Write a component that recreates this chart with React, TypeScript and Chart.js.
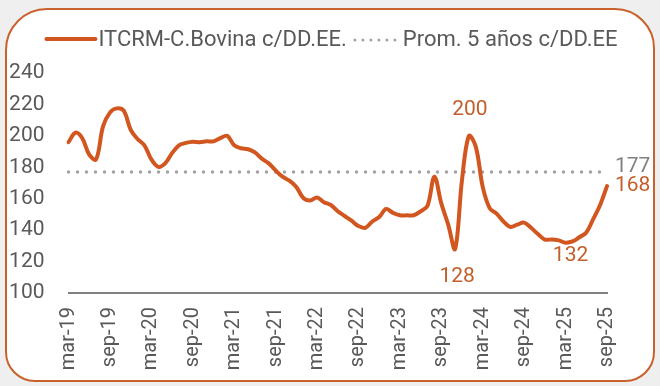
import React, { useEffect, useRef } from "react";
import { Chart, registerables } from "chart.js";

Chart.register(...registerables);

// ---------- DATA ----------
const CATEGORIES: string[] = [
  "mar-19", "abr-19", "may-19", "jun-19", "jul-19", "ago-19", "sep-19", "oct-19", "nov-19", "dic-19",
  "ene-20", "feb-20", "mar-20", "abr-20", "may-20", "jun-20", "jul-20", "ago-20", "sep-20", "oct-20", "nov-20", "dic-20",
  "ene-21", "feb-21", "mar-21", "abr-21", "may-21", "jun-21", "jul-21", "ago-21", "sep-21", "oct-21", "nov-21", "dic-21",
  "ene-22", "feb-22", "mar-22", "abr-22", "may-22", "jun-22", "jul-22", "ago-22", "sep-22", "oct-22", "nov-22", "dic-22",
  "ene-23", "feb-23", "mar-23", "abr-23", "may-23", "jun-23", "jul-23", "ago-23", "sep-23", "oct-23", "nov-23", "dic-23",
  "ene-24", "feb-24", "mar-24", "abr-24", "may-24", "jun-24", "jul-24", "ago-24", "sep-24", "oct-24", "nov-24", "dic-24",
  "ene-25", "feb-25", "mar-25", "abr-25", "may-25", "jun-25", "jul-25", "ago-25", "sep-25",
];

const ITCRM_BOVINA: number[] = [
  196, 202, 198.5, 188, 185, 206, 214.8, 217.5, 216, 204,
  198, 194, 185, 180.3, 182.5, 189, 194, 195.5, 196.3, 196,
  196.5, 196.5, 198.5, 200, 194, 192.1, 191.5, 189.5, 185.5, 182.5,
  178, 174, 171.5, 167.5, 160.5, 158.8, 160.8, 157.8, 156, 152,
  149, 146, 142.6, 141.5, 145.5, 148.3, 153.5, 151, 149.5, 149.4,
  149.5, 152, 155.5, 174, 157, 143.5, 128, 172, 200, 193,
  167.5, 154, 150.5, 145.5, 142, 143.5, 144.8, 141.5, 137.5, 134,
  134.1, 133.5, 132, 132.8, 135.5, 138.5, 147, 156, 168,
];

const PROM_5_ANOS = 177;

const SHOWN_TICKS: string[] = [
  "mar-19", "sep-19", "mar-20", "sep-20", "mar-21", "sep-21", "mar-22",
  "sep-22", "mar-23", "sep-23", "mar-24", "sep-24", "mar-25", "sep-25",
];

const Y_MIN = 100;
const Y_MAX = 240;
const Y_STEP = 20;

const LEGEND_LABELS: string[] = ["ITCRM-C.Bovina c/DD.EE.", "Prom. 5 años c/DD.EE"];

// indices of labelled points on the ITCRM series
const LABELLED_POINTS: number[] = [58, 56, 72, 78];

// ---------- STYLE ----------
const FONT = "Roboto, 'Noto Sans', sans-serif";
const LINE_COLOR = "#D2561F";
const AVG_COLOR = "#A3A3A3";
const TEXT_GRAY = "#595959";
const LABEL_ORANGE = "#C25F2B";
const LABEL_GRAY = "#808080";
const FRAME_COLOR = "#C9612F";

// placement (styling) for labelled points: [dx, dy, align]
const POINT_LABEL_PLACEMENT: [number, number, CanvasTextAlign][] = [
  [1, -26, "center"],
  [2, 28, "center"],
  [5, 13, "center"],
  [8, 0, "left"],
];

const legendPlugin = {
  id: "customLegend",
  afterDraw(chart: any) {
    const ctx = chart.ctx as CanvasRenderingContext2D;
    ctx.save();
    ctx.font = `22px ${FONT}`;
    const w1 = ctx.measureText(LEGEND_LABELS[0]).width;
    const w2 = ctx.measureText(LEGEND_LABELS[1]).width;
    const lineW = 53, gapA = 1, gapB = 6, dotW = 44, gapC = 6;
    const total = lineW + gapA + w1 + gapB + dotW + gapC + w2;
    let x = (chart.width - total) / 2 + 1;
    const y = 40;
    ctx.strokeStyle = LINE_COLOR;
    ctx.lineWidth = 4;
    ctx.lineCap = "round";
    ctx.beginPath();
    ctx.moveTo(x + 2, y - 1);
    ctx.lineTo(x + lineW - 2, y - 1);
    ctx.stroke();
    x += lineW + gapA;
    ctx.fillStyle = TEXT_GRAY;
    ctx.textBaseline = "middle";
    ctx.textAlign = "left";
    ctx.fillText(LEGEND_LABELS[0], x, y);
    x += w1 + gapB;
    ctx.strokeStyle = AVG_COLOR;
    ctx.lineWidth = 3;
    ctx.setLineDash([0, 8]);
    ctx.beginPath();
    ctx.moveTo(x + 2, y);
    ctx.lineTo(x + dotW, y);
    ctx.stroke();
    ctx.setLineDash([]);
    x += dotW + gapC;
    ctx.fillText(LEGEND_LABELS[1], x, y);
    ctx.restore();
  },
};

const pointLabelPlugin = {
  id: "pointLabels",
  afterDatasetsDraw(chart: any) {
    const ctx = chart.ctx as CanvasRenderingContext2D;
    const xs = chart.scales.x;
    const ys = chart.scales.y;
    ctx.save();
    ctx.font = `21px ${FONT}`;
    ctx.textBaseline = "middle";
    LABELLED_POINTS.forEach((idx, k) => {
      const v = ITCRM_BOVINA[idx];
      const [dx, dy, align] = POINT_LABEL_PLACEMENT[k];
      ctx.fillStyle = LABEL_ORANGE;
      ctx.textAlign = align;
      ctx.fillText(String(Math.round(v)), xs.getPixelForValue(idx) + dx, ys.getPixelForValue(v) + dy);
    });
    const last = CATEGORIES.length - 1;
    ctx.fillStyle = LABEL_GRAY;
    ctx.textAlign = "left";
    ctx.fillText(String(PROM_5_ANOS), xs.getPixelForValue(last) + 8, ys.getPixelForValue(PROM_5_ANOS) - 5.5);
    ctx.restore();
  },
};

export default function App() {
  const canvasRef = useRef<HTMLCanvasElement | null>(null);

  useEffect(() => {
    if (!canvasRef.current) return;
    const chart = new Chart(canvasRef.current, {
      type: "line",
      data: {
        labels: CATEGORIES,
        datasets: [
          {
            label: LEGEND_LABELS[0],
            data: ITCRM_BOVINA,
            borderColor: LINE_COLOR,
            borderWidth: 4,
            pointRadius: 0,
            tension: 0.35,
            borderCapStyle: "round",
            borderJoinStyle: "round",
          },
          {
            label: LEGEND_LABELS[1],
            data: CATEGORIES.map(() => PROM_5_ANOS),
            borderColor: AVG_COLOR,
            borderWidth: 3.5,
            borderDash: [0, 9],
            borderCapStyle: "round",
            pointRadius: 0,
          },
        ],
      },
      options: {
        responsive: false,
        animation: false,
        layout: { padding: { top: 73, left: 9, right: 53, bottom: 16 } },
        plugins: {
          legend: { display: false },
          tooltip: { enabled: false },
        },
        scales: {
          x: {
            grid: { display: false, drawTicks: false },
            border: { display: true, color: "#808080", width: 2 },
            ticks: {
              autoSkip: false,
              minRotation: 90,
              maxRotation: 90,
              padding: 14,
              color: TEXT_GRAY,
              font: { family: FONT, size: 20 },
              callback: function (this: any, value: any) {
                const lab = CATEGORIES[value as number];
                return SHOWN_TICKS.includes(lab) ? lab : "";
              },
            },
            afterFit: (scale: any) => {
              scale.height = 77;
              scale.paddingLeft = 0;
              scale.paddingRight = 0;
            },
          },
          y: {
            min: Y_MIN,
            max: Y_MAX,
            grid: { display: false, drawTicks: false },
            border: { display: false },
            ticks: {
              stepSize: Y_STEP,
              padding: 24,
              color: TEXT_GRAY,
              font: { family: FONT, size: 21 },
            },
            afterFit: (scale: any) => {
              scale.width = 59.5;
              scale.paddingTop = 0;
              scale.paddingBottom = 0;
            },
          },
        },
      },
      plugins: [legendPlugin, pointLabelPlugin],
    });
    return () => chart.destroy();
  }, []);

  return (
    <div style={{ position: "fixed", inset: 0, background: "#EFEFEF" }}>
      <div
        style={{
          position: "absolute",
          left: 5,
          top: 8,
          width: 650,
          height: 374,
          boxSizing: "border-box",
          border: `2px solid ${FRAME_COLOR}`,
          borderRadius: "42px 40px 30px 30px",
          background: "#FFFFFF",
        }}
      />
      <canvas
        ref={canvasRef}
        width={660}
        height={386}
        style={{ position: "absolute", left: 0, top: 0, display: "block" }}
      />
    </div>
  );
}
